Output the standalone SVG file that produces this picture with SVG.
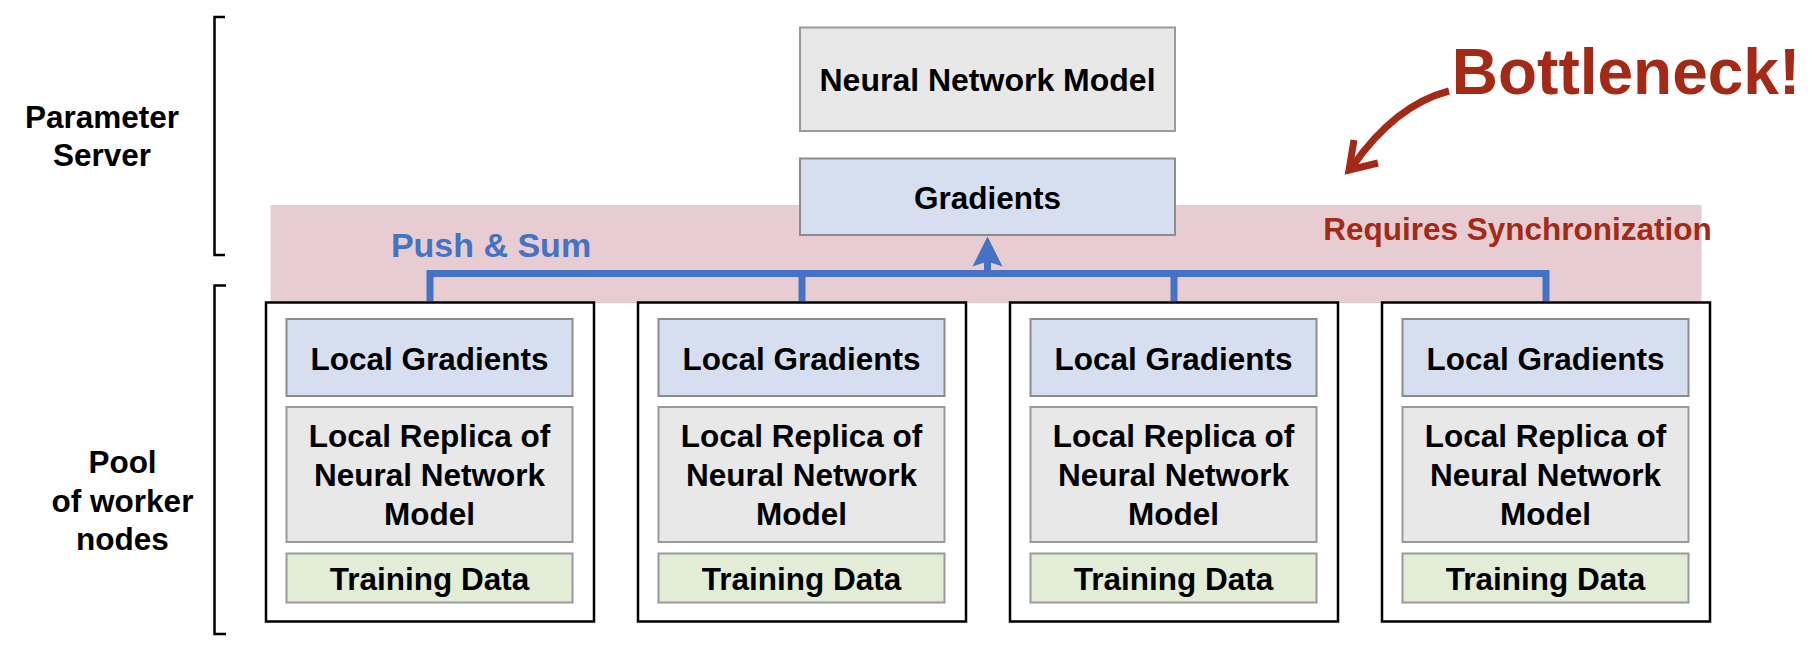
<svg xmlns="http://www.w3.org/2000/svg" width="1812" height="660" viewBox="0 0 1812 660">
<style>
text{font-family:"Liberation Sans",Arial,sans-serif;font-weight:bold;text-anchor:middle;fill:#000}
.t{font-size:31.5px}
.blue{fill:#4472c4}
.red{fill:#a32a17}
.outer{fill:#fff;stroke:#000;stroke-width:2.5}
.lg{fill:#d6dff0;stroke:#8c8c8c;stroke-width:2}
.rep{fill:#e8e8e8;stroke:#9a9a9a;stroke-width:2}
.td{fill:#e2ecd6;stroke:#9a9a9a;stroke-width:2}
.br{fill:none;stroke:#000;stroke-width:2.5}
.conn{fill:none;stroke:#4472c4;stroke-width:7;stroke-linejoin:miter}
.redline{fill:none;stroke:#a32a17;stroke-width:7}
</style>
<rect x="270.5" y="205" width="1431" height="98" fill="#e7ccd1"/>
<g id="labels">
<text class="t" x="102" y="128">Parameter</text>
<text class="t" x="102" y="166">Server</text>
<text class="t" x="122.5" y="473">Pool</text>
<text class="t" x="122.5" y="512">of worker</text>
<text class="t" x="122.5" y="550">nodes</text>
<path class="br" d="M225,17 H214.5 V255 H225"/>
<path class="br" d="M226,285.5 H214.5 V634 H226"/>
</g>
<g id="nnm">
<rect class="rep" x="800" y="27.5" width="375" height="103.5"/>
<text style="font-size:32px" x="987.5" y="91">Neural Network Model</text>
</g>
<g id="gradients">
<rect class="lg" x="800" y="158.5" width="375" height="76.5"/>
<text class="t" x="987.5" y="208.5">Gradients</text>
</g>
<g id="worker1">
<rect class="outer" x="266" y="302.5" width="328" height="319"/>
<rect class="lg" x="286.5" y="319" width="286" height="77"/>
<text class="t" x="429.5" y="369.5">Local Gradients</text>
<rect class="rep" x="286.5" y="407" width="286" height="135"/>
<text class="t" x="429.5" y="447">Local Replica of</text>
<text class="t" x="429.5" y="486">Neural Network</text>
<text class="t" x="429.5" y="525">Model</text>
<rect class="td" x="286.5" y="553.5" width="286" height="49"/>
<text class="t" x="429.5" y="589.5">Training Data</text>
</g>
<g id="worker2">
<rect class="outer" x="638" y="302.5" width="328" height="319"/>
<rect class="lg" x="658.5" y="319" width="286" height="77"/>
<text class="t" x="801.5" y="369.5">Local Gradients</text>
<rect class="rep" x="658.5" y="407" width="286" height="135"/>
<text class="t" x="801.5" y="447">Local Replica of</text>
<text class="t" x="801.5" y="486">Neural Network</text>
<text class="t" x="801.5" y="525">Model</text>
<rect class="td" x="658.5" y="553.5" width="286" height="49"/>
<text class="t" x="801.5" y="589.5">Training Data</text>
</g>
<g id="worker3">
<rect class="outer" x="1010" y="302.5" width="328" height="319"/>
<rect class="lg" x="1030.5" y="319" width="286" height="77"/>
<text class="t" x="1173.5" y="369.5">Local Gradients</text>
<rect class="rep" x="1030.5" y="407" width="286" height="135"/>
<text class="t" x="1173.5" y="447">Local Replica of</text>
<text class="t" x="1173.5" y="486">Neural Network</text>
<text class="t" x="1173.5" y="525">Model</text>
<rect class="td" x="1030.5" y="553.5" width="286" height="49"/>
<text class="t" x="1173.5" y="589.5">Training Data</text>
</g>
<g id="worker4">
<rect class="outer" x="1382" y="302.5" width="328" height="319"/>
<rect class="lg" x="1402.5" y="319" width="286" height="77"/>
<text class="t" x="1545.5" y="369.5">Local Gradients</text>
<rect class="rep" x="1402.5" y="407" width="286" height="135"/>
<text class="t" x="1545.5" y="447">Local Replica of</text>
<text class="t" x="1545.5" y="486">Neural Network</text>
<text class="t" x="1545.5" y="525">Model</text>
<rect class="td" x="1402.5" y="553.5" width="286" height="49"/>
<text class="t" x="1545.5" y="589.5">Training Data</text>
</g>
<g id="connectors">
<path class="conn" d="M430,301 V273.5 H1546 V301 M802,273.5 V301 M1174,273.5 V301 M987.5,273.5 V258"/>
<path d="M987.5,236.5 L1002.5,266.5 L987.5,261.5 L972.5,266.5 z" fill="#4472c4"/>
<text class="blue" style="font-size:34px" x="491" y="257">Push &amp; Sum</text>
<path class="redline" d="M1449,91 Q1395,105 1352,167"/>
<path class="redline" d="M1354,140 L1349,170 L1378,163" stroke-linejoin="miter"/>
</g>
<g id="annotations">
<text class="red" style="font-size:64px" x="1626" y="94">Bottleneck!</text>
<text class="red t" x="1517.5" y="239.5">Requires Synchronization</text>
</g>
</svg>
